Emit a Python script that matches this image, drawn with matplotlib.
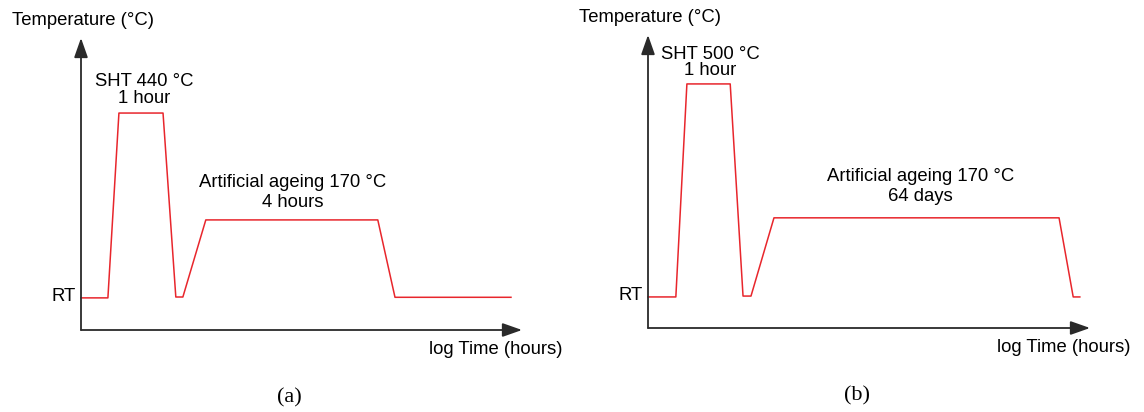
import matplotlib
matplotlib.use("Agg")
import matplotlib.pyplot as plt

# Schematic heat-treatment profiles (arbitrary units, axes span 0-100)
time_a = [0, 6.1, 8.6, 18.6, 21.5, 23.1, 28.3, 67.3, 71.2, 97.5]
temp_a = [11.0, 11.0, 74.3, 74.3, 11.3, 11.3, 37.7, 37.7, 11.2, 11.2]

time_b = [0, 6.3, 8.8, 18.6, 21.5, 23.3, 28.5, 93.0, 96.2, 97.7]
temp_b = [10.6, 10.6, 83.3, 83.3, 10.9, 10.9, 37.6, 37.6, 10.6, 10.6]

sht_labels = ['SHT 440 °C\n1 hour', 'SHT 500 °C\n1 hour']
age_labels = ['Artificial ageing 170 °C\n4 hours', 'Artificial ageing 170 °C\n64 days']
panel_tags = ['(a)', '(b)']

W, H = 1144, 412
fig = plt.figure(figsize=(W / 100, H / 100), dpi=100)

# axes boxes in pixels: left, right (arrow tip), bottom, top (arrow tip)
boxes = [(81, 522, 330, 38), (648, 1090, 328, 35)]
sht_pos = [(14.4, 82.2), (14.0, 90.6)]
age_pos = [(48.0, 47.0), (61.7, 48.3)]

line_red = '#e8262c'
axis_col = '#2a2a2a'
font = 'Liberation Sans'

for k, (l, r, b, t) in enumerate(boxes):
    ax = fig.add_axes([l / W, 1 - b / H, (r - l) / W, (b - t) / H])
    ax.set_xlim(0, 100)
    ax.set_ylim(0, 100)
    ax.axis('off')

    # axes with arrow heads
    arrow = dict(arrowstyle='-|>,head_length=0.85,head_width=0.3', color=axis_col,
                 lw=1.3, shrinkA=0, shrinkB=0, mutation_scale=14)
    ax.annotate('', xy=(100, 0), xytext=(0, 0), arrowprops=arrow, annotation_clip=False)
    ax.annotate('', xy=(0, 100), xytext=(0, 0), arrowprops=arrow, annotation_clip=False)

    times = time_a if k == 0 else time_b
    temps = temp_a if k == 0 else temp_b
    ax.plot(times, temps, color=line_red, lw=1.1, clip_on=False)

    ax.text(-15.7, 106.0, 'Temperature (°C)', family=font, fontsize=13.3,
            ha='left', va='center', clip_on=False)
    ax.text(-1.3, temps[0] + 0.5, 'RT', family=font, fontsize=13.3,
            ha='right', va='center', clip_on=False)
    ax.text(78.9, -6.6, 'log Time (hours)', family=font, fontsize=13.3,
            ha='left', va='center', clip_on=False)
    ax.text(sht_pos[k][0], sht_pos[k][1], sht_labels[k], family=font, fontsize=13.3,
            ha='center', va='center', linespacing=0.95)
    ax.text(age_pos[k][0], age_pos[k][1], age_labels[k], family=font, fontsize=13.3,
            ha='center', va='center', linespacing=1.2)
    ax.text(47.2, -23.3, panel_tags[k], family='Liberation Serif', fontsize=16,
            ha='center', va='center', clip_on=False)

fig.savefig('out.png', dpi=100)
